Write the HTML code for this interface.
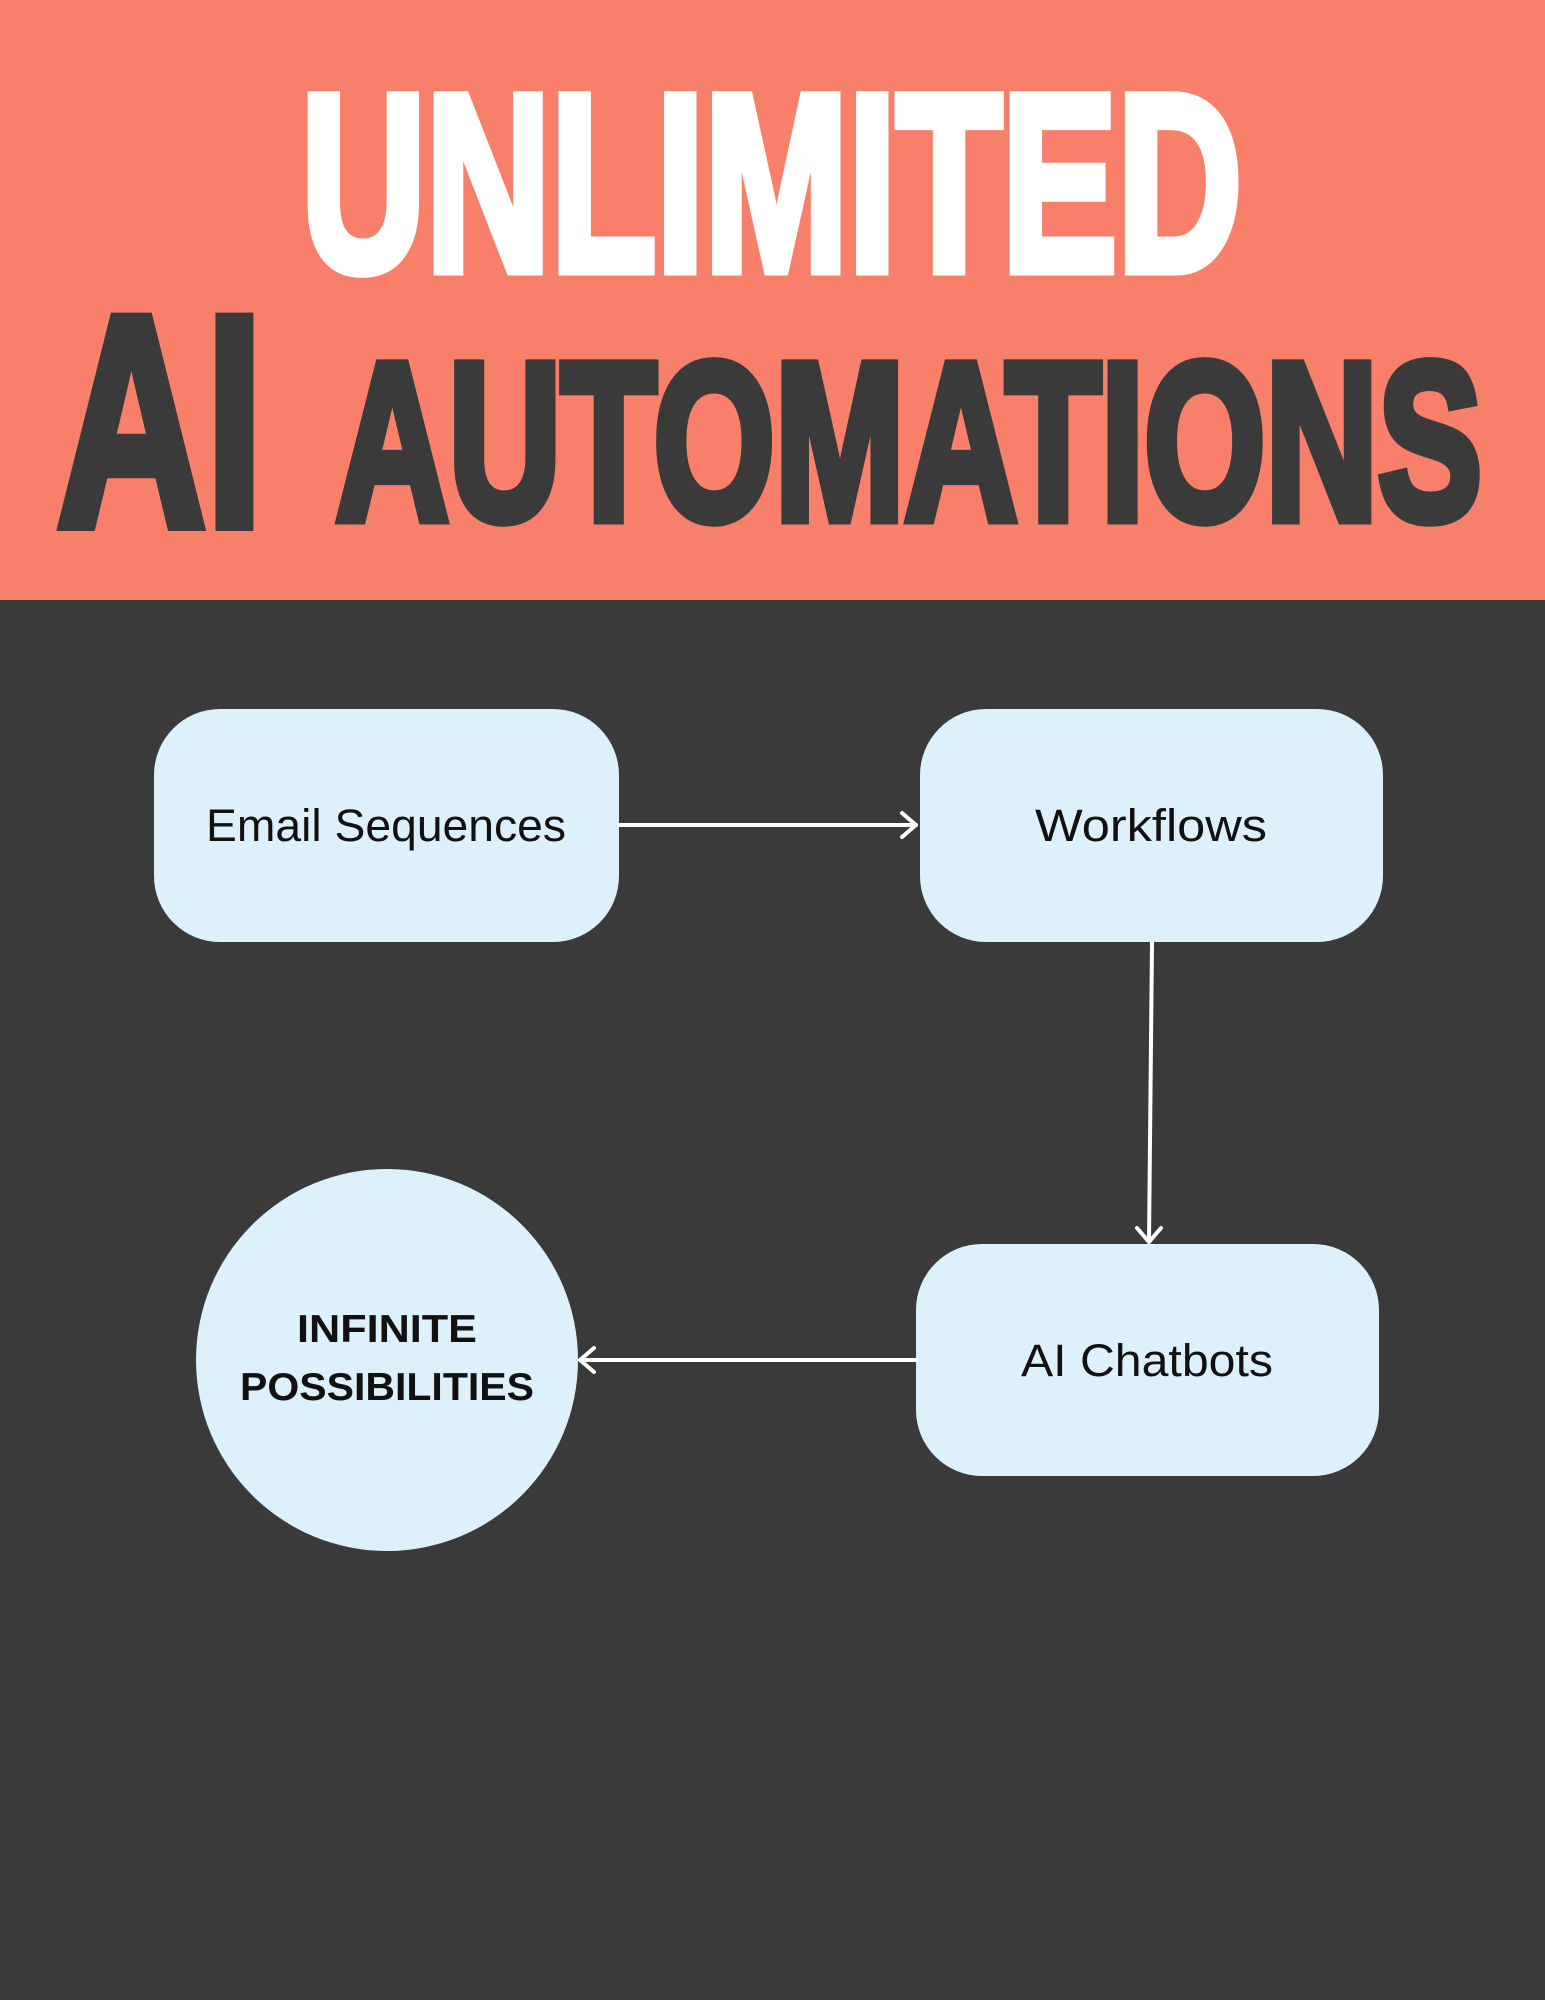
<!DOCTYPE html>
<html><head><meta charset="utf-8"><style>
html,body{margin:0;padding:0;background:#3a3a3a}
svg{display:block}
</style></head><body>
<svg width="1545" height="2000" viewBox="0 0 1545 2000" xmlns="http://www.w3.org/2000/svg">
<rect x="0" y="0" width="1545" height="2000" fill="#3a3a3a"/>
<rect x="0" y="0" width="1545" height="600" fill="#f8806b"/>
<g font-family="'Liberation Sans Narrow','Liberation Sans',sans-serif" font-weight="bold" stroke-linejoin="miter">
<text x="301" y="270" font-size="252" fill="#ffffff" stroke="#ffffff" stroke-width="11" textLength="941" lengthAdjust="spacingAndGlyphs">UNLIMITED</text>
<text x="57" y="525" font-size="300" fill="#3a3a3a" stroke="#3a3a3a" stroke-width="12" textLength="206" lengthAdjust="spacingAndGlyphs">AI</text>
<text x="336" y="519" font-size="224" fill="#3a3a3a" stroke="#3a3a3a" stroke-width="11" textLength="1146" lengthAdjust="spacingAndGlyphs">AUTOMATIONS</text>
</g>
<g fill="#ddf1fc">
<rect x="154" y="709" width="465" height="233" rx="66"/>
<rect x="920" y="709" width="463" height="233" rx="66"/>
<rect x="916" y="1244" width="463" height="232" rx="66"/>
<circle cx="387" cy="1360" r="191"/>
</g>
<g stroke="#ffffff" stroke-width="4" fill="none" stroke-linecap="round" stroke-linejoin="round">
<line x1="619" y1="825" x2="916" y2="825"/>
<polyline points="902,813 916,825 902,837"/>
<line x1="1152" y1="942" x2="1149" y2="1242"/>
<polyline points="1137,1228 1149,1242 1161,1228"/>
<line x1="916" y1="1360" x2="580" y2="1360"/>
<polyline points="594,1348 580,1360 594,1372"/>
</g>
<g font-family="'Liberation Sans',sans-serif" fill="#111" text-anchor="middle">
<text x="386" y="841" font-size="45" textLength="360" lengthAdjust="spacingAndGlyphs">Email Sequences</text>
<text x="1151" y="841" font-size="45" textLength="232" lengthAdjust="spacingAndGlyphs">Workflows</text>
<text x="1147" y="1376" font-size="45" textLength="252" lengthAdjust="spacingAndGlyphs">AI Chatbots</text>
<text x="387" y="1342" font-size="39" font-weight="bold" textLength="180" lengthAdjust="spacingAndGlyphs">INFINITE</text>
<text x="387" y="1400" font-size="39" font-weight="bold" textLength="294" lengthAdjust="spacingAndGlyphs">POSSIBILITIES</text>
</g>
</svg>
</body></html>
